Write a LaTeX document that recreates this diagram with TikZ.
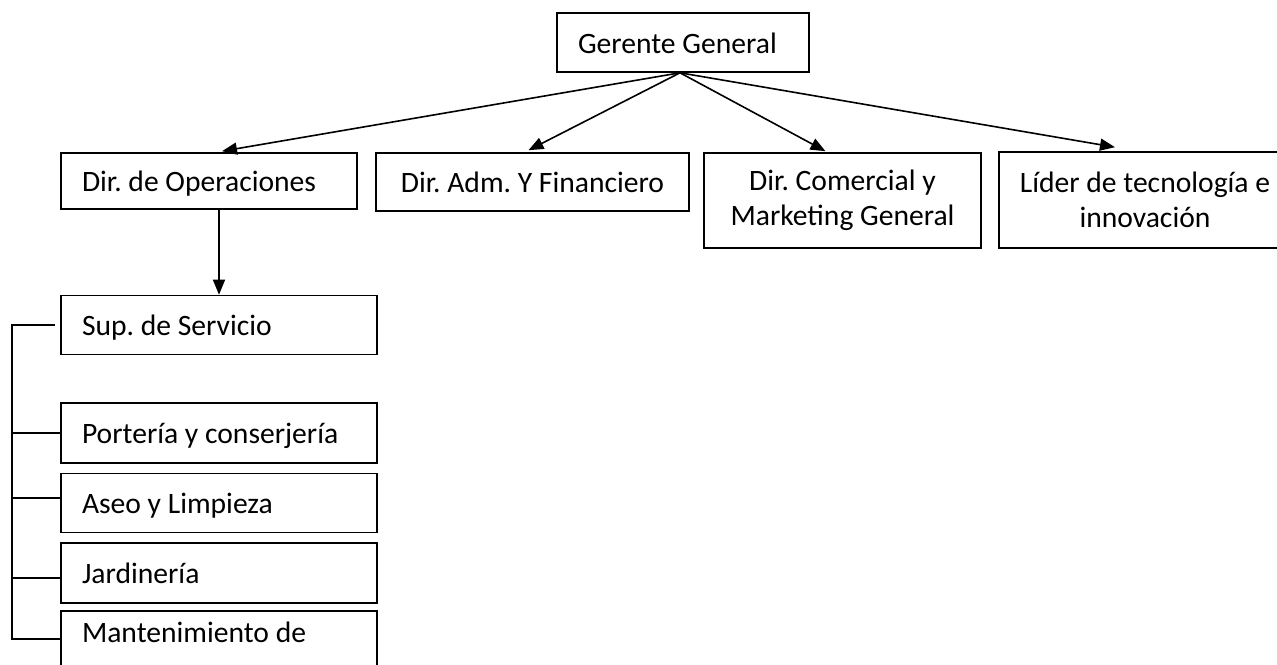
\documentclass[tikz,border=0pt]{standalone}
\usepackage{fontspec}
\setmainfont{Carlito}
\usetikzlibrary{arrows.meta,calc}
\newcommand\lefttxt[2]{\makebox[#1][l]{#2}}
\frenchspacing
\begin{document}
\begin{tikzpicture}[x=1pt,y=-1pt,
  box/.style={draw, line width=1.6pt, font=\fontsize{29.6}{35}\selectfont, inner xsep=21pt, inner ysep=0pt},
  one/.style={box, text height=22pt, text depth=1pt},
  cbox/.style={box, align=center},
  conn/.style={line width=1.6pt},
  arr/.style={conn, -{Triangle[length=15pt,width=12pt]}}]
\useasboundingbox (0,0) rectangle (1277,664);
\fill[white] (0,0) rectangle (1277,664);
\clip (0,0) rectangle (1277,664);
% nodes
\node[one, minimum height=59pt] (gg) at (683,42.5) {\lefttxt{210pt}{Gerente General}};
\node[one, minimum height=56pt] (op) at (209,181) {\lefttxt{254pt}{Dir. de Operaciones}};
\node[one, minimum width=313pt, minimum height=58pt] (adm) at (532.5,182) {Dir. Adm. Y Financiero};
\node[cbox, minimum width=277pt, minimum height=95pt] (com) at (842.5,200.5) {Dir. Comercial y\\Marketing General};
\node[cbox, minimum width=292pt, minimum height=96pt] (lid) at (1145,200) {Líder de tecnología e\\innovación};
\node[one, minimum height=59pt] (sup) at (219,325) {\lefttxt{274pt}{Sup. de Servicio}};
\node[one, minimum height=60pt] (por) at (219,433) {\lefttxt{274pt}{Portería y conserjería}};
\node[one, minimum height=59pt] (ase) at (219,503) {\lefttxt{274pt}{Aseo y Limpieza}};
\node[one, minimum height=60pt] (jar) at (219,573) {\lefttxt{274pt}{Jardinería}};
\node[box, anchor=north, inner ysep=12pt, text height=20pt, text depth=40pt] (man) at (219,610) {\lefttxt{274pt}{Mantenimiento de}};
% arrows from the general manager
\draw[arr] ([xshift=-3pt]gg.south) -- ([xshift=13pt,yshift=1pt]op.north);
\draw[arr] ([xshift=-3pt]gg.south) -- ([xshift=-4pt,yshift=2pt]adm.north);
\draw[arr] ([xshift=-3pt]gg.south) -- ([xshift=-17pt,yshift=1pt]com.north);
\draw[arr] ([xshift=-3pt]gg.south) -- ([xshift=-30pt,yshift=4pt]lid.north);
\draw[arr] (sup.north |- op.south) -- (sup.north);
% bracket
\coordinate (bx) at (12,0);
\coordinate (bb) at (12,639);
\draw[conn] ([xshift=-5pt]sup.west) -- (sup.west -| bx) -- (bb) -- (bb -| man.west);
\draw[conn] (bx |- por.west) -- (por.west);
\draw[conn] ([yshift=5pt]bx |- ase.west) -- ([yshift=5pt]ase.west);
\draw[conn] ([yshift=-5pt]bx |- jar.west) -- ([yshift=-5pt]jar.west);
\end{tikzpicture}
\end{document}
